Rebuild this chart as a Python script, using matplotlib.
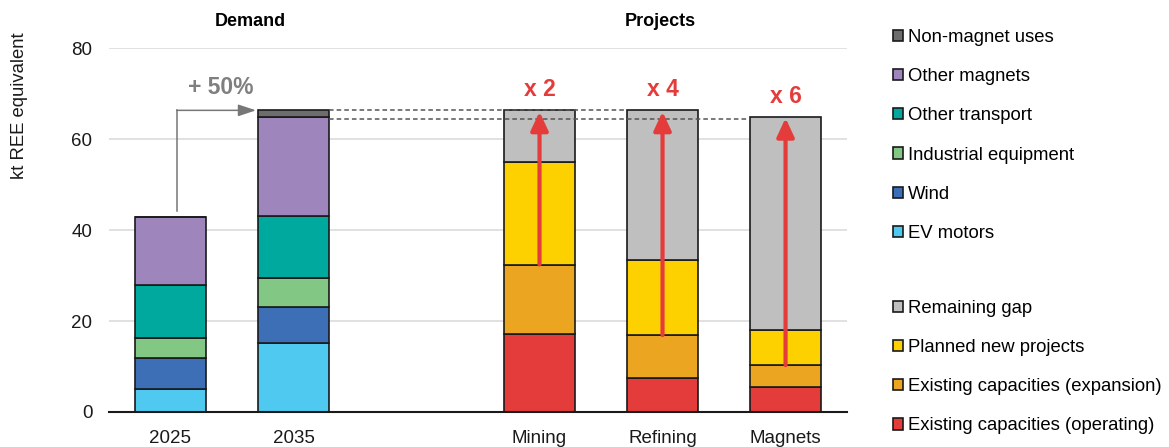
import matplotlib
matplotlib.use("Agg")
import matplotlib.pyplot as plt
from matplotlib.patches import Patch
import numpy as np

plt.rcParams['font.family'] = ['Liberation Sans', 'DejaVu Sans']

# demand (kt REE equivalent)
years = ['2025', '2035']
ev_motors = [5.0, 15.1]
wind = [6.8, 7.9]
industrial = [4.4, 6.5]
other_transport = [11.7, 13.6]
other_magnets = [15.0, 21.8]
non_magnet = [0.0, 1.4]

# projects
stages = ['Mining', 'Refining', 'Magnets']
operating = [17.2, 7.4, 5.6]
expansion = [15.2, 9.5, 4.7]
planned = [22.5, 16.4, 7.7]
gap = [11.4, 33.0, 46.9]
multipliers = ['x 2', 'x 4', 'x 6']
growth_label = '+ 50%'

demand_series = [
    ('EV motors', ev_motors, '#4fc9f0'),
    ('Wind', wind, '#3d6fb6'),
    ('Industrial equipment', industrial, '#83c785'),
    ('Other transport', other_transport, '#00a99d'),
    ('Other magnets', other_magnets, '#9e86bc'),
    ('Non-magnet uses', non_magnet, '#6d6d6d'),
]
project_series = [
    ('Existing capacities (operating)', operating, '#e43c3a'),
    ('Existing capacities (expansion)', expansion, '#eba520'),
    ('Planned new projects', planned, '#fdd100'),
    ('Remaining gap', gap, '#bfbfbf'),
]

red = '#e43c3a'
grey_txt = '#7f7f7f'

fig = plt.figure(figsize=(11.69, 4.47), dpi=100)
ax = fig.add_axes([0.0932, 0.0783, 0.6314, 0.8143])

x_dem = np.array([0, 1])
x_proj = np.array([3, 4, 5])
width = 0.57

bottom = np.zeros(len(years))
for name, vals, col in demand_series:
    ax.bar(x_dem, vals, width, bottom=bottom, color=col, edgecolor='#1a1a1a',
           linewidth=1.2, zorder=3)
    bottom += np.array(vals)
dem_tot = bottom.copy()

bottom = np.zeros(len(stages))
for name, vals, col in project_series:
    ax.bar(x_proj, vals, width, bottom=bottom, color=col, edgecolor='#1a1a1a',
           linewidth=1.2, zorder=3)
    bottom += np.array(vals)
proj_tot = bottom.copy()

# red growth arrows
for i, xp in enumerate(x_proj):
    start = operating[i] + expansion[i]
    ax.annotate('', xy=(xp, proj_tot[i] - 0.3), xytext=(xp, start),
                arrowprops=dict(arrowstyle='-|>,head_width=0.35,head_length=0.75',
                                color=red, lw=3.0, mutation_scale=15,
                                shrinkA=0, shrinkB=0), zorder=5)
    ax.text(xp, proj_tot[i] + 2.0, multipliers[i], ha='center', va='bottom',
            color=red, fontsize=16.5, fontweight='bold', zorder=5)

# dashed reference lines
ax.plot([1 + width / 2, 4 - width / 2], [dem_tot[1], dem_tot[1]], ls=(0, (3, 2)),
        color='#555555', lw=1.1, zorder=4)
ax.plot([1 + width / 2, 5 - width / 2], [64.3, 64.3], ls=(0, (3, 2)),
        color='#555555', lw=1.1, zorder=4)

# +50% elbow arrow
ax.plot([0.05, 0.05], [dem_tot[0] + 1.3, dem_tot[1]], color='#777777', lw=1.1, zorder=4)
ax.annotate('', xy=(1 - width / 2 - 0.02, dem_tot[1]), xytext=(0.05, dem_tot[1]),
            arrowprops=dict(arrowstyle='-|>,head_width=0.3,head_length=0.9',
                            color='#777777', lw=1.1, mutation_scale=12,
                            shrinkA=0, shrinkB=0), zorder=4)
ax.text(0.41, dem_tot[1] + 2.4, growth_label, ha='center', va='bottom',
        color=grey_txt, fontsize=16.5, fontweight='bold')

ax.set_xlim(-0.5, 5.5)
ax.set_ylim(0, 80)
ax.set_yticks([0, 20, 40, 60, 80])
ax.set_xticks(list(x_dem) + list(x_proj))
ax.set_xticklabels(years + stages)
ax.tick_params(axis='both', length=0, labelsize=13.5, colors='#1a1a1a')
ax.tick_params(axis='x', pad=13)
ax.tick_params(axis='y', pad=12)
ax.yaxis.grid(True, color='#dedede', lw=1.3, zorder=0)
ax.set_axisbelow(True)
for s in ['top', 'right', 'left']:
    ax.spines[s].set_visible(False)
ax.spines['bottom'].set_color('#1a1a1a')
ax.spines['bottom'].set_linewidth(1.5)
ax.spines['bottom'].set_zorder(6)

fig.text(20 / 1169, 1 - 106 / 447, 'kt REE equivalent', rotation=90,
         ha='center', va='center', fontsize=13.3, color='#1a1a1a')

fig.text(250 / 1169, 1 - 21 / 447, 'Demand', ha='center', va='center',
         fontsize=13, fontweight='bold')
fig.text(660 / 1169, 1 - 22 / 447, 'Projects', ha='center', va='center',
         fontsize=13, fontweight='bold')

# legends
h1 = [Patch(facecolor=c, edgecolor='#1a1a1a', lw=1.2, label=n)
      for n, v, c in reversed(demand_series)]
h2 = [Patch(facecolor=c, edgecolor='#1a1a1a', lw=1.2, label=n)
      for n, v, c in reversed(project_series)]
leg_kw = dict(frameon=False, fontsize=13.3, handlelength=0.55, handleheight=0.55,
              handletextpad=0.25, labelspacing=1.2, borderaxespad=0, borderpad=0)
leg1 = fig.legend(handles=h1, loc='upper left', bbox_to_anchor=(893 / 1169, 1 - 29 / 447), **leg_kw)
leg2 = fig.legend(handles=h2, loc='upper left', bbox_to_anchor=(893 / 1169, 1 - 300 / 447), **leg_kw)

fig.savefig('out.png', dpi=100)
